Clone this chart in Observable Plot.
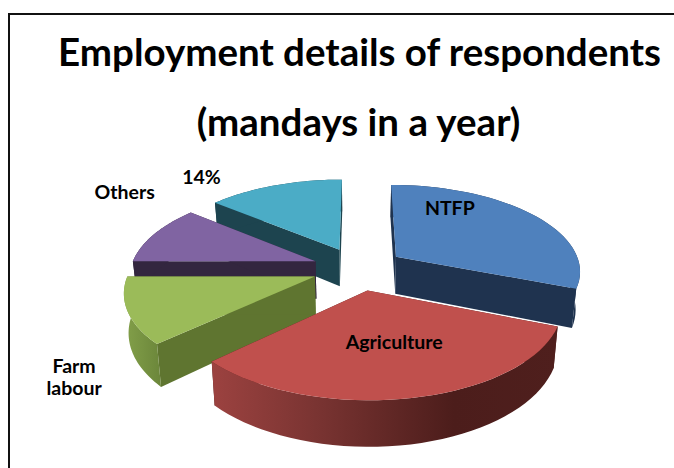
<!DOCTYPE html>
<html>
<head>
<meta charset="utf-8">
<script src="https://cdn.jsdelivr.net/npm/d3@7"></script>
<script src="https://cdn.jsdelivr.net/npm/@observablehq/plot@0.6"></script>
<style>
  html, body { margin: 0; background: #fff; }
  #sheet { position: relative; width: 674px; height: 468px; overflow: hidden; }
  #edge { position: absolute; left: 8px; top: 13px; width: 700px; height: 500px;
          border-left: 2px solid #111; border-top: 2px solid #111; }
  #chart { position: absolute; left: 0; top: 0; }
  svg { background: transparent !important; }
</style>
</head>
<body>
<div id="sheet"><div id="edge"></div><div id="chart"></div></div>
<script>
// Share of mandays per employment type, clockwise from twelve o'clock.
const categories = ["NTFP", "Agriculture", "Farm labour", "Others", "Unnamed"];
const shares = [31, 32, 12, 11, 14];
const labelTexts = ["NTFP", "Agriculture", "Farm\nlabour", "Others", "14%"];
const titleLines = ["Employment details of respondents", "(mandays in a year)"];

// Surface and wall paints per slice.
const topColors = ["#4F81BD", "#C0504D", "#9BBB59", "#8064A2", "#4BACC6"];
const wallColors = ["#1F334F", "#4F1F1D", "#5F7530", "#33263F", "#1D444F"];
const rimPaints = ["#1F334F", "url(#rimRed)", "url(#rimGreen)", "#33263F", "#1D444F"];
// Nudges in pixels from each slice's centroid to its label.
const labelNudgeX = [-30, 2, -131, -92, -97];
const labelNudgeY = [-22, -9, 80, -53, -32];
// Back-to-front painting order.
const paintOrder = [4, 3, 0, 2, 1];

// Pie solid: explosion, perspective strength and thickness in radius units.
const explode = 0.25, persp = 0.151, thick = 0.44, taper = 0.02;

function project(X, Y, z) {
  const s = 1 / (1 - persp * Y);
  return { x: X * s * (1 - taper * z), y: (Y + thick * z) * s };
}

const total = d3.sum(shares);
let run = 0;
const slices = shares.map((v, i) => {
  const a0 = run / total * 2 * Math.PI;
  run += v;
  const a1 = run / total * 2 * Math.PI;
  const mid = (a0 + a1) / 2;
  const ox = explode * Math.sin(mid), oy = -explode * Math.cos(mid);
  const arc = d3.range(0, 41).map(k => {
    const a = a0 + (a1 - a0) * k / 40;
    return [ox + Math.sin(a), oy - Math.cos(a)];
  });
  return { i, mid, ox, oy, arc };
});

const flat = (pts, z) => pts.map(([X, Y]) => project(X, Y, z));
const face = (pts, fill) => Plot.line(pts, { x: "x", y: "y", fill, stroke: "none", curve: "linear" });

const solidMarks = paintOrder.flatMap(i => {
  const { ox, oy, arc } = slices[i];
  const tip = [ox, oy], first = arc[0], last = arc[arc.length - 1];
  const wall = ends => [...flat(ends, 0), ...flat([...ends].reverse(), 1)];
  return [
    face(wall([tip, first]), wallColors[i]),
    face(wall([tip, last]), wallColors[i]),
    face(wall(arc), rimPaints[i]),
    face(flat([tip, ...arc], 0), topColors[i])
  ];
});

const labelRows = slices.map(s => {
  const p = project(s.ox + 0.6 * Math.sin(s.mid), s.oy - 0.6 * Math.cos(s.mid), 0);
  return { ...p, text: labelTexts[s.i], dx: labelNudgeX[s.i], dy: labelNudgeY[s.i] };
});
const labelMarks = labelRows.map(d => Plot.text([d], {
  x: "x", y: "y", text: "text", dx: d.dx, dy: d.dy,
  fontSize: 19.5, fontWeight: 700, fill: "#000", lineHeight: 1.15, lineAnchor: "middle"
}));

// Gradients for the curved outer rims.
function gradients() {
  const defs = d3.create("svg:defs");
  const add = (id, stops) => {
    const g = defs.append("linearGradient").attr("id", id);
    stops.forEach(([o, c]) => g.append("stop").attr("offset", o).attr("stop-color", c));
  };
  add("rimRed", [[0, "#9C4240"], [0.3, "#7A3432"], [0.7, "#4C1D1B"], [1, "#4F1F1D"]]);
  add("rimGreen", [[0, "#83A04A"], [1, "#6B863A"]]);
  return defs.node();
}

const chart = Plot.plot({
  width: 674,
  height: 468,
  margin: 0,
  x: { axis: null, domain: [-1.5, 1.5], range: [358 - 1.5 * 185, 358 + 1.5 * 185] },
  y: { axis: null, domain: [-1.5, 1.5], range: [268 - 1.5 * 85.9, 268 + 1.5 * 85.9] },
  style: { fontFamily: "Lato, sans-serif", background: "transparent", overflow: "visible" },
  marks: [
    gradients,
    ...solidMarks,
    ...labelMarks,
    Plot.text([titleLines[0]], { frameAnchor: "top", text: d => d, dx: 22, dy: 38, fontSize: 38.5, fontWeight: 700, fill: "#000", lineAnchor: "top" }),
    Plot.text([titleLines[1]], { frameAnchor: "top", text: d => d, dx: 21, dy: 108, fontSize: 38.5, fontWeight: 700, fill: "#000", lineAnchor: "top" })
  ]
});
document.getElementById("chart").append(chart);
</script>
</body>
</html>
